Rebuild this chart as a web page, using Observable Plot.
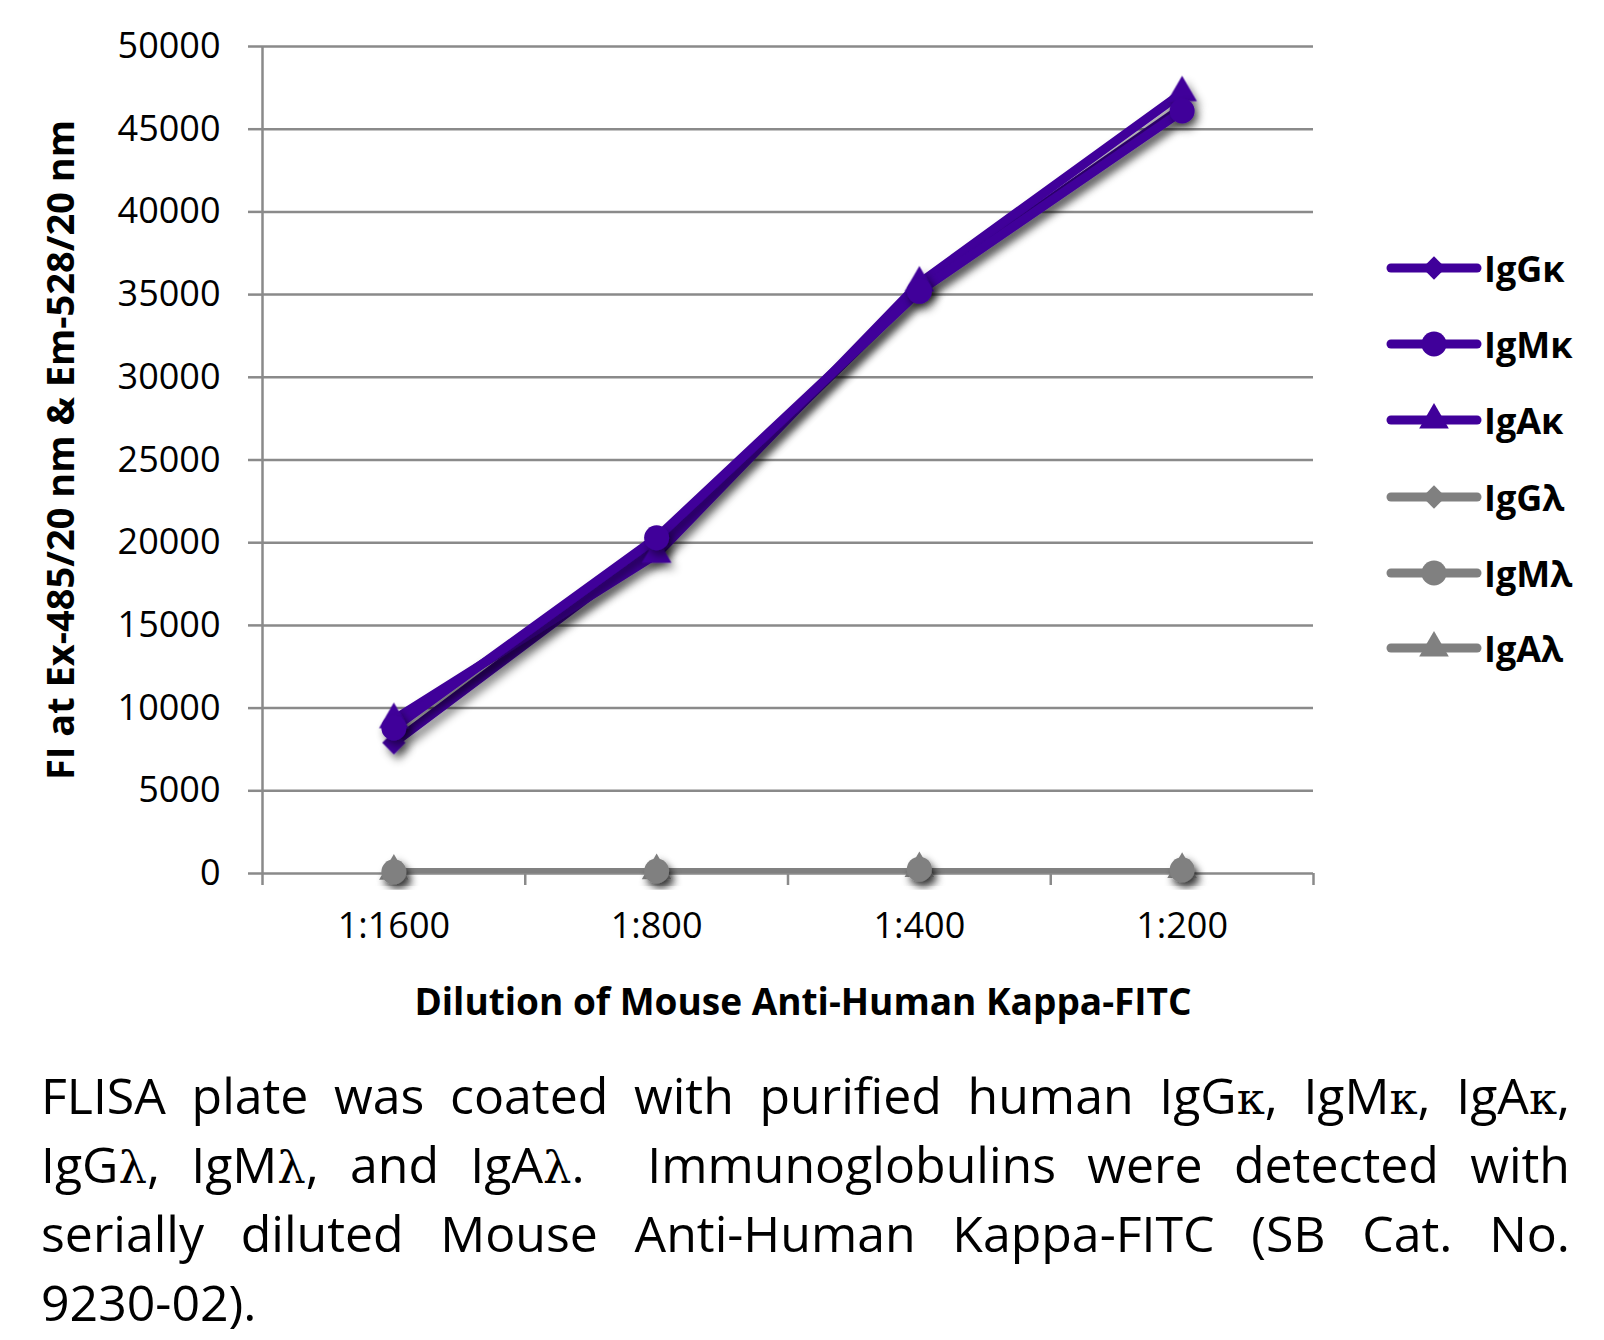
<!DOCTYPE html>
<html>
<head>
<meta charset="utf-8">
<script src="https://cdn.jsdelivr.net/npm/d3@7"></script>
<script src="https://cdn.jsdelivr.net/npm/@observablehq/plot@0.6"></script>
<style>
  html, body { margin: 0; padding: 0; background: #fff; }
  #wrap { position: relative; width: 1604px; height: 1340px; overflow: hidden; font-family: "Open Sans", sans-serif; }
  #chart { position: absolute; left: 0; top: 0; }
  #legend { position: absolute; left: 1385px; top: 0; }
  .lg { position: absolute; left: 0; height: 50px; display: flex; align-items: center; white-space: nowrap; }
  .lg span { font-weight: bold; font-size: 36px; margin-left: 1px; color: #000; }
  #caption { position: absolute; left: 41px; top: 1061px; width: 1529px; font-size: 50px; line-height: 69px; color: #000; }
  #caption div { height: 69px; white-space: nowrap; text-align: justify; text-align-last: justify; }
  #caption div.last { text-align-last: left; }
  .gk { font-family: "DejaVu Serif", serif; font-size: 0.9em; line-height: 1; }
</style>
</head>
<body>
<div id="wrap">
  <div id="chart"></div>
  <div id="legend"></div>
  <div id="caption"></div>
</div>
<script>
// ---- data ----
const categories = ["1:1600", "1:800", "1:400", "1:200"];
const seriesNames = ["IgGκ", "IgMκ", "IgAκ", "IgGλ", "IgMλ", "IgAλ"];
const IgGk = [7900, 19800, 35300, 46300];
const IgMk = [8800, 20300, 35200, 46100];
const IgAk = [9300, 19300, 35700, 47200];
const IgGl = [120, 160, 280, 230];
const IgMl = [100, 150, 260, 220];
const IgAl = [140, 170, 300, 250];
const yTicks = [0, 5000, 10000, 15000, 20000, 25000, 30000, 35000, 40000, 45000, 50000];
const seriesSymbols = ["diamond2", "circle", "triangle", "diamond2", "circle", "triangle"];
const seriesColors = ["#40009a", "#40009a", "#40009a", "#808080", "#808080", "#808080"];
const xTitle = "Dilution of Mouse Anti-Human Kappa-FITC";
const yTitle = "FI at Ex-485/20 nm & Em-528/20 nm";
const captionLines = [
  "FLISA plate was coated with purified human IgG<g>κ</g>, IgM<g>κ</g>, IgA<g>κ</g>,",
  "IgG<g>λ</g>, IgM<g>λ</g>, and IgA<g>λ</g>.&nbsp; Immunoglobulins were detected with",
  "serially diluted Mouse Anti-Human Kappa-FITC (SB Cat. No.",
  "9230-02)."
];

const seriesValues = [IgGk, IgMk, IgAk, IgGl, IgMl, IgAl];
const rows = [];
seriesNames.forEach((s, k) => {
  seriesValues[k].forEach((v, i) => rows.push({series: s, k, i, value: v}));
});
// draw grey (lambda) first, purple on top
const drawOrder = [3, 5, 4, 0, 2, 1];
const symR = {diamond2: 10.5, circle: 12.5, triangle: 11};

const gridColor = "#8a8a8a";
const marks = [
  Plot.gridY(yTicks, {stroke: gridColor, strokeOpacity: 1, strokeWidth: 2.5}),
  Plot.ruleX([-0.5], {stroke: gridColor, strokeWidth: 2.5}),
  Plot.axisY(yTicks, {tickSize: 14, tickPadding: 28, tickFormat: d => String(d), stroke: gridColor, strokeWidth: 2.5, fill: "#000", fontSize: 36, label: null}),
  Plot.axisX([-0.5, 0.5, 1.5, 2.5, 3.5], {tickSize: 12, tickFormat: () => "", stroke: gridColor, strokeWidth: 2.5, label: null}),
  Plot.axisX([0, 1, 2, 3], {tickSize: 0, tickPadding: 39, tickFormat: i => categories[i], fill: "#000", fontSize: 36, label: null}),
];
for (const k of drawOrder) {
  const d = rows.filter(r => r.k === k);
  marks.push(Plot.line(d, {x: "i", y: "value", stroke: seriesColors[k], strokeWidth: 9, strokeLinejoin: "round", strokeLinecap: "round"}));
}
for (const k of drawOrder) {
  const d = rows.filter(r => r.k === k);
  marks.push(Plot.dot(d, {x: "i", y: "value", fill: seriesColors[k], stroke: "none", symbol: seriesSymbols[k], r: symR[seriesSymbols[k]]}));
}
marks.push(Plot.text([xTitle], {text: d => d, frameAnchor: "bottom", textAnchor: "middle", lineAnchor: "middle", dx: 15, dy: 130, fontWeight: "bold", fontSize: 37, fill: "#000"}));
marks.push(Plot.text([yTitle], {text: d => d, frameAnchor: "left", textAnchor: "middle", lineAnchor: "middle", rotate: -90, dx: -201, dy: -10, fontWeight: "bold", fontSize: 38, fill: "#000"}));

const chart = Plot.plot({
  width: 1604,
  height: 1040,
  marginLeft: 262,
  marginRight: 291,
  marginTop: 46,
  marginBottom: 167,
  x: {domain: [-0.5, 3.5], label: null},
  y: {domain: [0, 50000], label: null},
  style: {fontFamily: "'Open Sans', sans-serif", background: "#fff", color: "#000", overflow: "visible"},
  marks
});

// drop shadow filter on data marks
const svgNS = "http://www.w3.org/2000/svg";
const defs = document.createElementNS(svgNS, "defs");
defs.innerHTML = '<filter id="shadow" x="-20%" y="-20%" width="140%" height="140%"><feDropShadow dx="4" dy="6" stdDeviation="4.5" flood-color="#000" flood-opacity="0.45"/></filter>';
chart.insertBefore(defs, chart.firstChild);
chart.querySelectorAll('g[aria-label="line"], g[aria-label="dot"]').forEach(g => g.setAttribute("filter", "url(#shadow)"));
document.getElementById("chart").appendChild(chart);

// legend
const legend = document.getElementById("legend");
const legendY = [268, 344, 420, 497, 573, 648];
seriesNames.forEach((s, k) => {
  const div = document.createElement("div");
  div.className = "lg";
  div.style.top = (legendY[k] - 25) + "px";
  const sym = {diamond2: d3.symbolDiamond2, circle: d3.symbolCircle, triangle: d3.symbolTriangle}[seriesSymbols[k]];
  const r = symR[seriesSymbols[k]];
  const path = d3.symbol(sym, Math.PI * r * r)();
  div.innerHTML = `<svg width="98" height="50" viewBox="0 0 98 50">
      <line x1="6" y1="25" x2="92" y2="25" stroke="${seriesColors[k]}" stroke-width="9" stroke-linecap="round"/>
      <path d="${path}" transform="translate(49,25)" fill="${seriesColors[k]}"/>
    </svg><span>${s}</span>`;
  legend.appendChild(div);
});

// caption
const cap = document.getElementById("caption");
captionLines.forEach((t, i) => {
  const div = document.createElement("div");
  if (i === captionLines.length - 1) div.className = "last";
  div.innerHTML = t.replace(/<g>/g, '<span class="gk">').replace(/<\/g>/g, '</span>');
  cap.appendChild(div);
});
</script>
</body>
</html>
